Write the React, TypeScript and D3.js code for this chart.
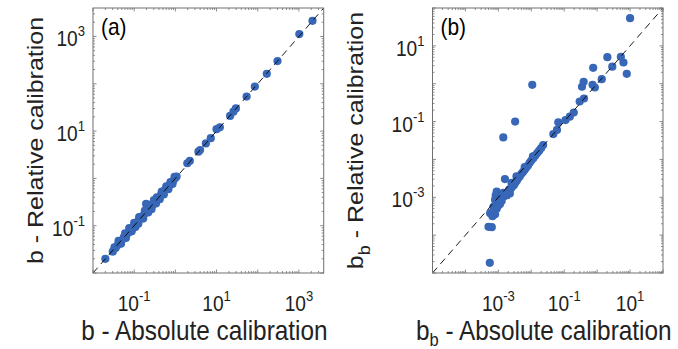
import * as d3 from "d3";

// values are read as log10 exponents: [absolute, relative]
const panelALog: [number, number][] = [
  [-1.70, -1.70], [-1.52, -1.55], [-1.48, -1.46], [-1.45, -1.47], [-1.40, -1.41],
  [-1.38, -1.32], [-1.35, -1.35], [-1.32, -1.38], [-1.30, -1.31], [-1.25, -1.24],
  [-1.22, -1.16], [-1.20, -1.20], [-1.20, -1.26], [-1.14, -1.15], [-1.12, -1.05],
  [-1.10, -1.08], [-1.06, -1.12], [-1.05, -1.05], [-1.00, -0.99], [-1.00, -0.94],
  [-0.97, -1.03], [-0.95, -0.95], [-0.90, -0.91], [-0.90, -0.96], [-0.88, -0.82],
  [-0.85, -0.84], [-0.80, -0.80], [-0.78, -0.85], [-0.75, -0.75], [-0.74, -0.68],
  [-0.71, -0.54], [-0.70, -0.71], [-0.66, -0.72], [-0.65, -0.64], [-0.62, -0.56],
  [-0.60, -0.60], [-0.58, -0.65], [-0.55, -0.56], [-0.52, -0.46], [-0.50, -0.50],
  [-0.47, -0.53], [-0.45, -0.45], [-0.45, -0.40], [-0.40, -0.41], [-0.38, -0.44],
  [-0.35, -0.35], [-0.33, -0.28], [-0.30, -0.30], [-0.28, -0.34], [-0.25, -0.24],
  [-0.22, -0.17], [-0.20, -0.21], [-0.17, -0.23], [-0.15, -0.15], [-0.12, -0.08],
  [-0.10, -0.10], [-0.07, -0.12], [-0.05, -0.05], [-0.02, 0.03], [0.00, 0.01],
  [0.03, 0.04], [0.29, 0.32], [0.35, 0.37], [0.56, 0.565], [0.60, 0.60],
  [0.74, 0.74], [0.86, 0.85], [1.00, 1.04], [1.08, 1.08], [1.33, 1.32],
  [1.41, 1.41], [1.47, 1.48], [1.73, 1.73], [1.93, 1.94], [2.22, 2.21],
  [2.48, 2.48], [3.01, 3.05], [3.33, 3.33],
];

const panelBLog: [number, number][] = [
  [1.00, 1.73], [0.31, 0.70], [0.72, 0.71], [0.46, 0.45], [0.80, 0.56],
  [0.90, 0.26], [-0.12, 0.42], [0.14, 0.12], [-0.41, 0.05], [-0.46, -0.08],
  [-0.14, -0.03], [-0.07, -0.10], [-1.97, -0.03], [-0.40, -0.39], [-0.53, -0.47],
  [-0.71, -0.76], [-0.83, -0.87], [-0.96, -0.96], [-1.18, -1.02], [-1.22, -1.22],
  [-1.33, -1.33], [-2.49, -1.00], [-2.85, -1.42],
  [-1.64, -1.62], [-1.70, -1.70], [-1.76, -1.77], [-1.82, -1.83], [-1.88, -1.90],
  [-1.95, -1.92], [-1.94, -1.97], [-2.00, -2.03], [-2.05, -2.09], [-2.10, -2.16],
  [-2.15, -2.21], [-2.20, -2.20], [-2.20, -2.27], [-2.25, -2.33], [-2.30, -2.38],
  [-2.35, -2.45], [-2.40, -2.50], [-2.45, -2.45], [-2.44, -2.56], [-2.49, -2.62],
  [-2.53, -2.68], [-2.58, -2.72], [-2.60, -2.62], [-2.62, -2.77], [-2.67, -2.80],
  [-2.71, -2.86], [-2.75, -2.95], [-2.76, -2.90], [-2.80, -2.52], [-2.80, -2.95],
  [-2.85, -2.98], [-2.90, -3.02], [-2.95, -3.06], [-2.95, -3.18], [-3.00, -3.10],
  [-3.05, -2.85], [-3.08, -2.95], [-3.10, -3.07], [-3.02, -3.15], [-3.05, -3.30],
  [-3.15, -3.25], [-3.12, -3.35], [-3.25, -3.42], [-3.18, -3.50], [-3.10, -3.45],
  [-3.00, -3.22], [-2.90, -3.10], [-2.65, -2.90], [-2.85, -2.88], [-3.30, -3.78],
  [-3.20, -3.79], [-3.26, -4.73],
];

const ticksA = [-1, 1, 3];
const ticksB = [-3, -1, 1];

const SX = 0.87;
const FONT = "'Liberation Sans', Arial, Helvetica, sans-serif";
const BLUE = "#3867b7";
const AXIS = "#707070";

type PanelProps = {
  left: number;
  right: number;
  top: number;
  bottom: number;
  domain: [number, number];
  data: [number, number][];
  ticks: number[];
  tag: string;
};

function Pow({ x, y, exp, anchor }: { x: number; y: number; exp: number; anchor: string }) {
  return (
    <text
      transform={`translate(${x},${y}) scale(${SX},1)`}
      textAnchor={anchor}
      fontSize={22}
      fontFamily={FONT}
      fill="#222"
    >
      <tspan>10</tspan>
      <tspan dy={-10} fontSize={15}>{String(exp)}</tspan>
    </text>
  );
}

function Panel({ left, right, top, bottom, domain, data, ticks, tag }: PanelProps) {
  const x = d3.scaleLog().domain(domain).range([left, right]);
  const y = d3.scaleLog().domain(domain).range([bottom, top]);
  const lo = Math.floor(Math.log10(domain[0]));
  const hi = Math.ceil(Math.log10(domain[1]));
  const major: number[] = [];
  const minor: number[] = [];
  for (let d = lo; d <= hi; d++) {
    const v = Math.pow(10, d);
    if (v >= domain[0] && v <= domain[1]) major.push(v);
    for (let m = 2; m <= 9; m++) {
      const w = m * v;
      if (w > domain[0] && w < domain[1]) minor.push(w);
    }
  }
  const tickLines: JSX.Element[] = [];
  const addTicks = (vals: number[], len: number, key: string) => {
    vals.forEach((v, i) => {
      const px = x(v);
      const py = y(v);
      tickLines.push(
        <line key={`${key}b${i}`} x1={px} x2={px} y1={bottom} y2={bottom - len} />,
        <line key={`${key}t${i}`} x1={px} x2={px} y1={top} y2={top + len} />,
        <line key={`${key}l${i}`} x1={left} x2={left + len} y1={py} y2={py} />,
        <line key={`${key}r${i}`} x1={right} x2={right - len} y1={py} y2={py} />
      );
    });
  };
  addTicks(major, 3.5, "M");
  addTicks(minor, 2, "m");

  return (
    <g>
      <rect x={left} y={top} width={right - left} height={bottom - top} fill="white" />
      {data.map(([a, b], i) => (
        <circle key={i} cx={x(Math.pow(10, a))} cy={y(Math.pow(10, b))} r={4.1} fill={BLUE} />
      ))}
      <line
        x1={x(domain[0])}
        y1={y(domain[0])}
        x2={x(domain[1])}
        y2={y(domain[1])}
        stroke="#000"
        strokeWidth={0.9}
        strokeDasharray="7,5"
      />
      <g stroke={AXIS} strokeWidth={0.8}>{tickLines}</g>
      <rect
        x={left}
        y={top}
        width={right - left}
        height={bottom - top}
        fill="none"
        stroke={AXIS}
        strokeWidth={1}
      />
      {ticks.map((e) => (
        <Pow key={`x${e}`} x={x(Math.pow(10, e))} y={311} exp={e} anchor="middle" />
      ))}
      {ticks.map((e) => (
        <Pow key={`y${e}`} x={left - 8} y={y(Math.pow(10, e)) + 10} exp={e} anchor="end" />
      ))}
      <text
        transform={`translate(${left + 8},${top + 27}) scale(${SX},1)`}
        fontSize={24}
        fontFamily={FONT}
        fill="#000"
      >
        {tag}
      </text>
    </g>
  );
}

export default function App() {
  const aL = 93, aR = 323.7, bL = 432.5, bR = 663, top = 8, bottom = 273;
  return (
    <svg width={678} height={349} style={{ position: "absolute", left: 0, top: 0, background: "white" }}>
      <rect width={678} height={349} fill="white" />
      <Panel left={aL} right={aR} top={top} bottom={bottom} domain={[0.01, 4000]} data={panelALog} ticks={ticksA} tag="(a)" />
      <Panel left={bL} right={bR} top={top} bottom={bottom} domain={[1e-5, 1e2]} data={panelBLog} ticks={ticksB} tag="(b)" />

      {/* axis titles */}
      <text transform={`translate(${(aL + aR) / 2 - 4},340) scale(${SX},1)`} textAnchor="middle" fontSize={28} fontFamily={FONT} fill="#222">
        b - Absolute calibration
      </text>
      <g transform={`translate(43,${(top + bottom) / 2}) scale(${SX},1)`}>
        <text transform="rotate(-90)" textAnchor="middle" fontSize={25} fontFamily={FONT} fill="#222">
          b - Relative calibration
        </text>
      </g>
      <text transform={`translate(${(bL + bR) / 2 - 4},340) scale(${SX},1)`} textAnchor="middle" fontSize={28} fontFamily={FONT} fill="#222">
        b<tspan dy={6} fontSize={19}>b</tspan>
        <tspan dy={-6}> - Absolute calibration</tspan>
      </text>
      <g transform={`translate(363,${(top + bottom) / 2}) scale(${SX},1)`}>
        <text transform="rotate(-90)" textAnchor="middle" fontSize={25} fontFamily={FONT} fill="#222">
          b<tspan dy={8} fontSize={18}>b</tspan>
          <tspan dy={-8}> - Relative calibration</tspan>
        </text>
      </g>
    </svg>
  );
}
